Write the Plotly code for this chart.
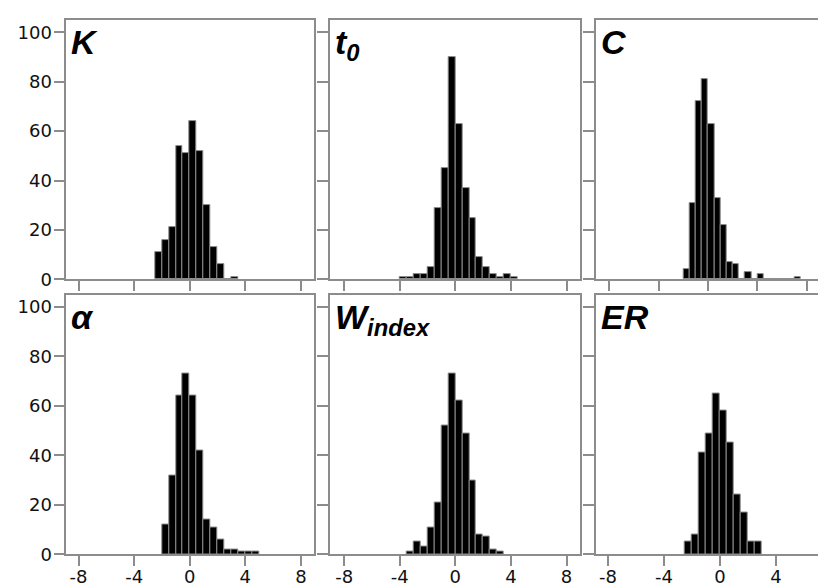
import numpy as np
import plotly.graph_objects as go

# ---------------- data (histogram counts, bin width 0.5) ----------------
bin_width = 0.5

k_start = -2.5
k_counts = [11, 16, 21, 54, 51, 64, 52, 30, 13, 6, 0, 1]

t0_start = -4.0
t0_counts = [1, 1, 2, 2, 5, 29, 45, 90, 63, 37, 25, 9, 5, 2, 1, 2, 1]

c_start = -2.0
c_counts = [4, 31, 72, 81, 63, 33, 22, 7, 6, 0, 3, 0, 2, 0, 0, 0, 0, 0, 1]

alpha_start = -2.0
alpha_counts = [12, 32, 64, 73, 64, 42, 14, 11, 6, 2, 2, 1, 1, 1]

w_start = -3.5
w_counts = [1, 5, 3, 11, 21, 52, 73, 62, 49, 30, 8, 7, 2, 1]

er_start = -2.5
er_counts = [5, 8, 41, 49, 65, 58, 45, 24, 17, 5, 5]

titles = ["<b><i>K</i></b>", "<b><i>t<sub>0</sub></i></b>", "<b><i>C</i></b>",
          "<b><i>α</i></b>", "<b><i>W<sub>index</sub></i></b>", "<b><i>ER</i></b>"]

x_ticks = [-8, -4, 0, 4, 8]
x_tick_labels = ["-8", "-4", "0", "4", "8"]
y_ticks = [0, 20, 40, 60, 80, 100]
y_tick_labels = ["0", "20", "40", "60", "80", "100"]

panels = [(k_start, k_counts), (t0_start, t0_counts), (c_start, c_counts),
          (alpha_start, alpha_counts), (w_start, w_counts), (er_start, er_counts)]

# ---------------- layout geometry ----------------
W, H = 826, 588
col_px = [(58.3, 306.0), (321.7, 571.7), (587.7, 826.0)]
row_px = [(12.3, 276.0), (291.5, 555.7)]  # top, bottom in pixels from top
x_ranges = [[-8.88, 8.94], [-9.04, 8.95], [-9.1, 10.2],
            [-8.88, 8.94], [-9.04, 8.95], [-8.88, 8.14]]
y_range = [0, 105]

frame_col = "#8c8c8c"
fig = go.Figure()

for i, (start, counts) in enumerate(panels):
    n = len(counts)
    centers = start + bin_width * np.arange(n) + bin_width / 2
    ax = "" if i == 0 else str(i + 1)
    fig.add_trace(go.Bar(
        x=centers, y=counts, width=bin_width,
        marker=dict(color="black", line=dict(color="#8c8c8c", width=1)),
        xaxis="x" + ax, yaxis="y" + ax, showlegend=False, hoverinfo="skip",
    ))
    r, c = divmod(i, 3)
    x0, x1 = col_px[c]
    top, bot = row_px[r]
    xdom = [x0 / W, x1 / W]
    ydom = [(H - bot) / H, (H - top) / H]
    fig.layout["xaxis" + ax] = dict(
        domain=xdom, range=x_ranges[i], anchor="y" + ax,
        tickmode="array", tickvals=x_ticks, ticktext=x_tick_labels,
        showticklabels=(r == 1), ticklabelstandoff=-5,
        ticks="outside", ticklen=10, tickwidth=1.5, tickcolor=frame_col,
        showline=True, linecolor=frame_col, linewidth=1.5, mirror=True,
        showgrid=False, zeroline=False,
        tickfont=dict(family="DejaVu Sans", size=18, color="#111111"),
    )
    fig.layout["yaxis" + ax] = dict(
        domain=ydom, range=y_range, anchor="x" + ax,
        tickmode="array", tickvals=y_ticks, ticktext=y_tick_labels,
        showticklabels=(c == 0), ticklabelstandoff=-2,
        ticks="outside", ticklen=11, tickwidth=1.5, tickcolor=frame_col,
        showline=True, linecolor=frame_col, linewidth=1.5, mirror=(c != 2),
        showgrid=False, zeroline=False,
        tickfont=dict(family="DejaVu Sans", size=18, color="#111111"),
    )
    fig.add_annotation(
        text=titles[i], xref="x" + ax + " domain", yref="y" + ax + " domain",
        x=0, y=1, xanchor="left", yanchor="top", xshift=3, yshift=-1,
        showarrow=False,
        font=dict(family="Liberation Sans", size=34, color="black"),
    )

fig.update_layout(
    width=W, height=H, margin=dict(l=0, r=0, t=0, b=0),
    paper_bgcolor="white", plot_bgcolor="white", bargap=0,
)

fig.write_html("out.html")
